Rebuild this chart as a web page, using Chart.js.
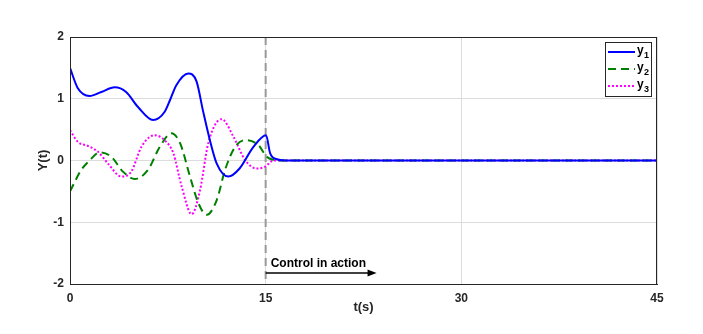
<!DOCTYPE html>
<html>
<head>
<meta charset="utf-8">
<script src="https://cdn.jsdelivr.net/npm/chart.js@4.4.1/dist/chart.umd.min.js"></script>
<style>
  html, body { margin: 0; padding: 0; background: #fff; }
  #wrap { width: 703px; height: 334px; }
</style>
</head>
<body>
<div id="wrap"><canvas id="c" width="703" height="334"></canvas></div>
<script>
// values (t in seconds)
const t1 = [0, 0.6, 1.5, 2.4, 3.43, 4.3, 5.2, 6.37, 7.26, 7.67, 8.15, 9.07, 9.7, 10.2, 10.7, 11.25, 12.14, 13.0, 14.06, 15.03, 15.34, 15.85, 16.5, 45];
const y1 = [1.5, 1.17, 1.045, 1.11, 1.185, 1.11, 0.87, 0.656, 0.79, 0.98, 1.22, 1.41, 1.28, 0.8, 0.35, -0.05, -0.26, -0.13, 0.22, 0.41, 0.12, 0.02, 0, 0];

const t2 = [0, 0.87, 1.5, 2.27, 3.17, 4.06, 4.96, 5.98, 6.88, 7.77, 8.44, 9.2, 9.84, 10.48, 11.25, 11.89, 12.65, 13.42, 14.44, 15.08, 15.6, 16.2, 45];
const y2 = [-0.5, -0.15, 0.0, 0.13, 0.06, -0.18, -0.3, -0.15, 0.22, 0.44, 0.28, -0.26, -0.69, -0.88, -0.64, -0.15, 0.22, 0.33, 0.25, 0.06, 0.01, 0, 0];

const t3 = [0, 0.61, 1.38, 2.15, 2.91, 3.94, 4.7, 5.47, 6.49, 7.39, 7.92, 8.56, 9.33, 9.97, 10.6, 11.63, 12.52, 13.42, 14.3, 14.95, 15.6, 16.2, 45];
const y3 = [0.49, 0.3, 0.235, 0.14, -0.05, -0.26, -0.18, 0.22, 0.41, 0.3, 0.12, -0.42, -0.87, -0.48, 0.28, 0.67, 0.39, 0.01, -0.13, -0.1, 0.0, 0, 0];

const seriesNames = ['y', 'y', 'y'];
const seriesSubs = ['1', '2', '3'];
const xTicks = [0, 15, 30, 45];
const yTicks = [-2, -1, 0, 1, 2];
const controlStart = 15;
const arrowEnd = 23.5;
const controlLabel = 'Control in action';

function pts(ts, ys) {
  return ts.map(function (t, i) { return { x: t, y: ys[i] }; });
}

const FONT = 'Liberation Sans, Arial, sans-serif';
const AXIS = '#262626';

const overlay = {
  id: 'overlay',
  beforeDatasetsDraw(chart) {
    const ctx = chart.ctx, a = chart.chartArea;
    const x = chart.scales.x.getPixelForValue(controlStart);
    ctx.save();
    ctx.strokeStyle = '#999999';
    ctx.lineWidth = 2;
    ctx.setLineDash([8, 5]);
    ctx.beginPath();
    ctx.moveTo(x, a.top);
    ctx.lineTo(x, a.bottom);
    ctx.stroke();
    ctx.restore();
  },
  afterDraw(chart) {
    const ctx = chart.ctx, a = chart.chartArea;
    const xs = chart.scales.x;
    ctx.save();
    // box
    ctx.strokeStyle = AXIS;
    ctx.lineWidth = 1;
    ctx.strokeRect(a.left + 0.5, a.top + 0.5, a.right - a.left - 1, a.bottom - a.top);
    // arrow
    const x0 = xs.getPixelForValue(controlStart), x1 = xs.getPixelForValue(arrowEnd);
    const ay = a.bottom - 11;
    ctx.strokeStyle = '#000';
    ctx.fillStyle = '#000';
    ctx.lineWidth = 1.5;
    ctx.beginPath();
    ctx.moveTo(x0, ay);
    ctx.lineTo(x1 - 6, ay);
    ctx.stroke();
    ctx.beginPath();
    ctx.moveTo(x1, ay);
    ctx.lineTo(x1 - 9, ay - 3.5);
    ctx.lineTo(x1 - 9, ay + 3.5);
    ctx.closePath();
    ctx.fill();
    ctx.font = 'bold 12px ' + FONT;
    ctx.textBaseline = 'alphabetic';
    ctx.textAlign = 'left';
    ctx.fillText(controlLabel, x0 + 5, ay - 6);
    // legend
    const lx = 605, ly = 42, lw = 46, lh = 54;
    ctx.fillStyle = '#fff';
    ctx.fillRect(lx, ly, lw, lh);
    ctx.strokeStyle = AXIS;
    ctx.lineWidth = 1;
    ctx.strokeRect(lx + 0.5, ly + 0.5, lw, lh);
    chart.data.datasets.forEach(function (ds, i) {
      const yy = ly + 10 + i * 17;
      ctx.strokeStyle = ds.borderColor;
      ctx.lineWidth = ds.borderWidth;
      ctx.setLineDash(ds.borderDash || []);
      ctx.beginPath();
      ctx.moveTo(lx + 3, yy);
      ctx.lineTo(lx + 30, yy);
      ctx.stroke();
      ctx.setLineDash([]);
      ctx.fillStyle = '#000';
      ctx.font = 'bold 12px ' + FONT;
      ctx.textBaseline = 'middle';
      ctx.fillText(seriesNames[i], lx + 32, yy - 1);
      ctx.font = 'bold 9px ' + FONT;
      ctx.fillText(seriesSubs[i], lx + 39, yy + 4);
    });
    ctx.restore();
  }
};

new Chart(document.getElementById('c'), {
  type: 'line',
  data: {
    datasets: [
      { label: 'y1', data: pts(t1, y1), borderColor: '#0000ff', borderWidth: 2, pointRadius: 0, cubicInterpolationMode: 'monotone' },
      { label: 'y2', data: pts(t2, y2), borderColor: '#008000', borderWidth: 2, borderDash: [8, 5], pointRadius: 0, cubicInterpolationMode: 'monotone' },
      { label: 'y3', data: pts(t3, y3), borderColor: '#ff00ff', borderWidth: 2, borderDash: [2, 2], pointRadius: 0, cubicInterpolationMode: 'monotone' }
    ]
  },
  options: {
    responsive: false,
    animation: false,
    layout: { padding: { top: 37, right: 46, left: 36, bottom: 19 } },
    plugins: { legend: { display: false }, tooltip: { enabled: false } },
    scales: {
      x: {
        type: 'linear', min: 0, max: 45,
        afterBuildTicks: function (s) { s.ticks = xTicks.map(function (v) { return { value: v }; }); },
        afterFit: function (s) { s.height = 31; },
        grid: { color: '#dcdcdc', drawTicks: false },
        border: { color: AXIS, width: 1 },
        ticks: { color: AXIS, padding: 7, font: { family: FONT, size: 12, weight: 'bold' } },
        title: { display: true, text: 't(s)', color: AXIS, padding: { top: 2, bottom: 0 }, font: { family: FONT, size: 13, weight: 'bold' } }
      },
      y: {
        type: 'linear', min: -2, max: 2,
        afterBuildTicks: function (s) { s.ticks = yTicks.map(function (v) { return { value: v }; }); },
        afterFit: function (s) { s.width = 34; },
        grid: { color: '#dcdcdc', drawTicks: false },
        border: { color: AXIS, width: 1 },
        ticks: { color: AXIS, padding: 6, font: { family: FONT, size: 12, weight: 'bold' } },
        title: { display: true, text: 'Y(t)', color: AXIS, padding: { top: 0, bottom: 4 }, font: { family: FONT, size: 13, weight: 'bold' } }
      }
    }
  },
  plugins: [overlay]
});
</script>
</body>
</html>
